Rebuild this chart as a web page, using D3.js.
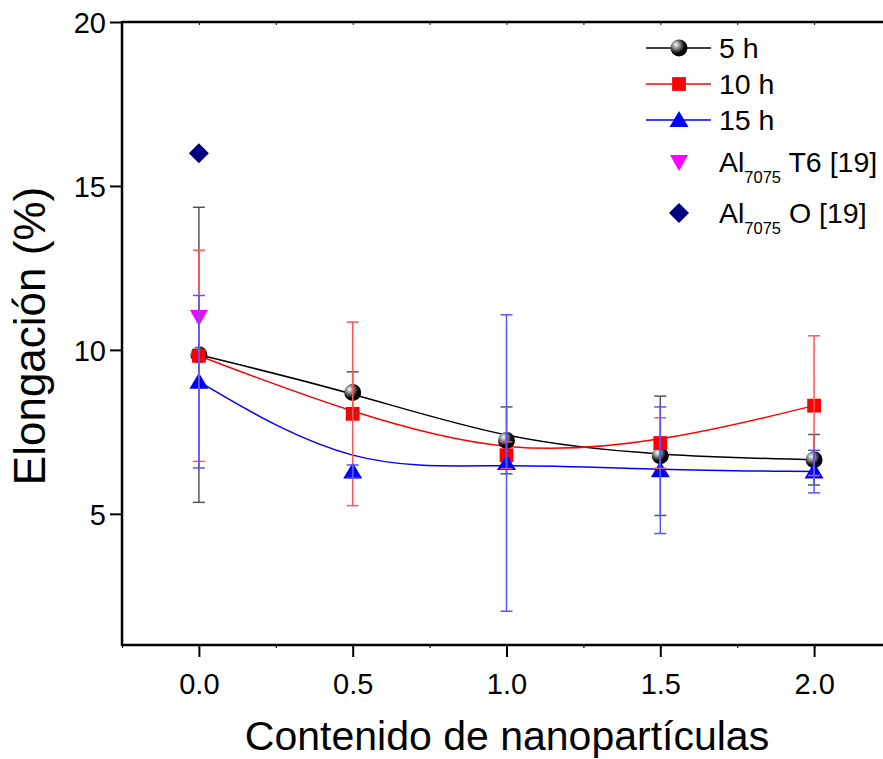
<!DOCTYPE html>
<html>
<head>
<meta charset="utf-8">
<script src="https://cdn.jsdelivr.net/npm/d3@7"></script>
<style>
  html, body { margin: 0; padding: 0; background: #fff; }
  svg { display: block; font-family: "Liberation Sans", Arial, sans-serif; }
</style>
</head>
<body>
<svg id="chart" width="883" height="759"></svg>
<script>
// ---- data ----
const xValues = [0, 0.5, 1.0, 1.5, 2.0];
const h5 = [9.85, 8.70, 7.24, 6.77, 6.65];
const h5Err = [4.50, 0.63, 1.02, 1.82, 0.77];
const h10 = [9.82, 8.05, 6.79, 7.16, 8.30];
const h10Err = [3.22, 2.80, 0.41, 0.77, 2.13];
const h15 = [9.03, 6.29, 6.55, 6.33, 6.29];
const h15Err = [2.63, 0.20, 4.52, 1.93, 0.65];
const t6X = [0];
const t6Y = [11.0];
const oX = [0];
const oY = [16.0];
const xTicks = [0, 0.5, 1.0, 1.5, 2.0];
const xMinorTicks = [-0.25, 0, 0.25, 0.5, 0.75, 1.0, 1.25, 1.5, 1.75, 2.0, 2.25];
const yTicks = [5, 10, 15, 20];
const xTitle = "Contenido de nanopartículas";
const yTitle = "Elongación (%)";

const svg = d3.select("#chart");
const x = d3.scaleLinear().domain([-0.25, 2.25]).range([122, 891]);
const y = d3.scaleLinear().domain([1, 20]).range([645, 22]);

// gradient for sphere
const defs = svg.append("defs");
const grad = defs.append("radialGradient").attr("id", "sphere")
  .attr("cx", "35%").attr("cy", "35%").attr("r", "65%").attr("fx", "32%").attr("fy", "30%");
grad.append("stop").attr("offset", "0%").attr("stop-color", "#ffffff");
grad.append("stop").attr("offset", "35%").attr("stop-color", "#888888");
grad.append("stop").attr("offset", "75%").attr("stop-color", "#000000");
grad.append("stop").attr("offset", "100%").attr("stop-color", "#000000");

// ---- axes ----
const axisG = svg.append("g");
// bottom axis
const bottom = axisG.append("g").attr("transform", "translate(0,645)")
  .call(d3.axisBottom(x).tickValues(xTicks).tickSize(12).tickFormat(d3.format(".1f")));
bottom.select(".domain").remove();
bottom.selectAll("line").attr("stroke", "#000").attr("stroke-width", 2);
bottom.selectAll("text").attr("font-size", 29).attr("dy", null).attr("y", 49).attr("fill", "#000")
  .attr("font-family", "Liberation Sans, Arial, sans-serif");
const bottomMinor = axisG.append("g").attr("transform", "translate(0,645)")
  .call(d3.axisBottom(x).tickValues(xMinorTicks).tickSize(3).tickFormat(""));
bottomMinor.select(".domain").remove();
bottomMinor.selectAll("line").attr("stroke", "#000").attr("stroke-width", 1.2);
// top axis
const topAx = axisG.append("g").attr("transform", "translate(0,22)")
  .call(d3.axisBottom(x).tickValues(xMinorTicks).tickSize(3).tickFormat(""));
topAx.select(".domain").remove();
topAx.selectAll("line").attr("stroke", "#000").attr("stroke-width", 1);
// left axis
const left = axisG.append("g").attr("transform", "translate(122,0)")
  .call(d3.axisLeft(y).tickValues(yTicks).tickSize(12).tickFormat(d3.format("d")));
left.select(".domain").remove();
left.selectAll("line").attr("stroke", "#000").attr("stroke-width", 2);
left.selectAll("text").attr("font-size", 29).attr("dy", "0.36em").attr("x", -16).attr("fill", "#000")
  .attr("font-family", "Liberation Sans, Arial, sans-serif");

// frame lines
axisG.append("line").attr("x1", 122).attr("x2", 883).attr("y1", 645).attr("y2", 645)
  .attr("stroke", "#000").attr("stroke-width", 2.5);
axisG.append("line").attr("x1", 122).attr("x2", 883).attr("y1", 22).attr("y2", 22)
  .attr("stroke", "#000").attr("stroke-width", 2.5);
axisG.append("line").attr("x1", 122).attr("x2", 122).attr("y1", 21).attr("y2", 646)
  .attr("stroke", "#000").attr("stroke-width", 2.5);

// titles
svg.append("text").attr("x", 507).attr("y", 750).attr("text-anchor", "middle")
  .attr("font-size", 41).attr("fill", "#000").text(xTitle);
svg.append("text").attr("transform", "translate(45,336) rotate(-90)").attr("text-anchor", "middle")
  .attr("font-size", 44).attr("fill", "#000").text(yTitle);

// ---- series ----
const series = [
  { vals: h5, err: h5Err, color: "#000000", errColor: "#555555", marker: "sphere" },
  { vals: h10, err: h10Err, color: "#ff0000", errColor: "#ff5555", marker: "square" },
  { vals: h15, err: h15Err, color: "#0000ff", errColor: "#5555ff", marker: "triangle" }
];

const line = d3.line().x(d => x(d[0])).y(d => y(d[1])).curve(d3.curveBasis);
const plot = svg.append("g");

series.forEach(s => {
  const pts = xValues.map((xv, i) => [xv, s.vals[i]]);
  plot.append("path").attr("d", line(pts)).attr("fill", "none")
    .attr("stroke", s.color).attr("stroke-width", 1.5);
});

function drawMarker(g, type, cx, cy, color) {
  if (type === "sphere") {
    g.append("circle").attr("cx", cx).attr("cy", cy).attr("r", 8.5).attr("fill", "url(#sphere)");
  } else if (type === "square") {
    g.append("path").attr("d", d3.symbol().type(d3.symbolSquare).size(190)())
      .attr("transform", `translate(${cx},${cy})`).attr("fill", color);
  } else if (type === "triangle") {
    g.append("path").attr("d", `M0,-9 L9.5,7 L-9.5,7 Z`)
      .attr("transform", `translate(${cx},${cy})`).attr("fill", color);
  } else if (type === "down") {
    g.append("path").attr("d", `M0,9 L9,-7 L-9,-7 Z`)
      .attr("transform", `translate(${cx},${cy})`).attr("fill", color);
  } else if (type === "diamond") {
    g.append("path").attr("d", `M0,-10 L10,0 L0,10 L-10,0 Z`)
      .attr("transform", `translate(${cx},${cy})`).attr("fill", color);
  }
}

// markers
series.forEach(s => {
  xValues.forEach((xv, i) => drawMarker(plot, s.marker, x(xv), y(s.vals[i]), s.color));
});
t6X.forEach((xv, i) => drawMarker(plot, "down", x(xv), y(t6Y[i]), "#ff00ff"));
oX.forEach((xv, i) => drawMarker(plot, "diamond", x(xv), y(oY[i]), "#000080"));

// error bars (drawn on top)
series.forEach(s => {
  xValues.forEach((xv, i) => {
    const cx = x(xv), top = y(s.vals[i] + s.err[i]), bot = y(s.vals[i] - s.err[i]);
    const g = plot.append("g").attr("stroke", s.errColor).attr("stroke-width", 1.5);
    g.append("line").attr("x1", cx).attr("x2", cx).attr("y1", top).attr("y2", bot);
    g.append("line").attr("x1", cx - 6).attr("x2", cx + 6).attr("y1", top).attr("y2", top);
    g.append("line").attr("x1", cx - 6).attr("x2", cx + 6).attr("y1", bot).attr("y2", bot);
  });
});

// ---- legend ----
const legend = svg.append("g");
const legendItems = [
  { label: "5 h", color: "#000", marker: "sphere", line: true, y: 48 },
  { label: "10 h", color: "#ff0000", marker: "square", line: true, y: 84 },
  { label: "15 h", color: "#0000ff", marker: "triangle", line: true, y: 120 },
  { label: "T6 [19]", sub: true, color: "#ff00ff", marker: "down", line: false, y: 162 },
  { label: "O [19]", sub: true, color: "#000080", marker: "diamond", line: false, y: 213 }
];
legendItems.forEach(it => {
  if (it.line) {
    legend.append("line").attr("x1", 646).attr("x2", 711).attr("y1", it.y).attr("y2", it.y)
      .attr("stroke", it.color).attr("stroke-width", 1.5);
  }
  drawMarker(legend, it.marker, 679, it.y, it.color);
  const t = legend.append("text").attr("x", 719).attr("y", it.y + 10).attr("font-size", 28.5).attr("fill", "#000");
  if (it.sub) {
    t.append("tspan").text("Al");
    t.append("tspan").attr("font-size", 16.5).attr("dy", 11).text("7075");
    t.append("tspan").attr("dy", -11).text(" " + it.label);
  } else {
    t.text(it.label);
  }
});
</script>
</body>
</html>
